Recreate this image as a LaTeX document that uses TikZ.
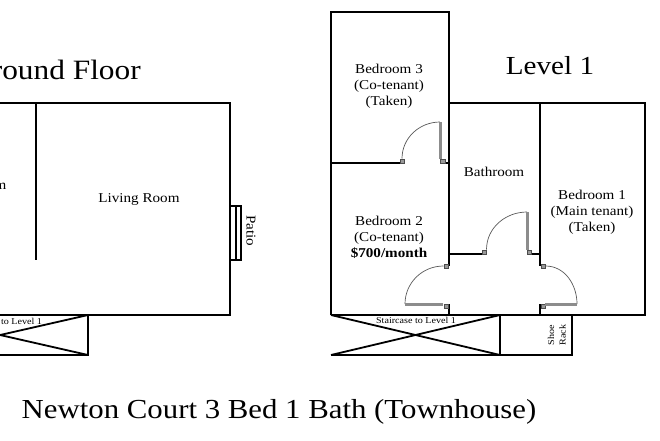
\documentclass[tikz,border=0pt]{standalone}
\usepackage{fontspec}
\setmainfont[FakeStretch=1.12]{Liberation Serif}
\tikzset{
	wall/.style={line width=1.8pt, black},
	swing/.style={line width=0.7pt, black!65},
	leaf/.style={line width=2.6pt, black!45},
	jamb/.style={draw=black!70, fill=black!40, line width=0.5pt, minimum size=4.5pt, inner sep=0pt},
	room/.style={font=\fontsize{13.5}{16}\selectfont, align=center, inner sep=0pt},
	small/.style={font=\fontsize{9}{10.5}\selectfont, align=center, inner sep=0pt},
	title/.style={font=\fontsize{26}{30}\selectfont, inner sep=0pt}
}
\begin{document}
\begin{tikzpicture}[x=1pt, y=-1pt]

	\useasboundingbox (0,0) rectangle (660,440);

	% ground floor
	\node[title, font=\fontsize{28}{30}\selectfont] at (55,70) (ground) {Ground Floor};
	\node[room] at (-35,186) (dining) {Dining Room};
	\node[room] at (139,199) (living) {Living Room};
	\node[room, rotate=-90] at (251,231) (patio) {Patio};
	\node[small] at (2,321) (stair0) {Staircase to Level 1};

	\draw[wall] (-5,103) -- (230,103) -- (230,315) -- (-5,315);
	\draw[wall] (36,103) -- (36,260);
	\draw[wall, line width=1.4pt] (230,206) -- (241,206) -- (241,260) -- (230,260);
	\draw[line width=1.4pt] (236,206) -- (236,260);
	\draw[wall] (-5,355) -- (88,355) -- (88,315);
	\draw[wall] (88,315) -- (-10,337.3);
	\draw[wall] (88,355) -- (-10,332.7);

	% level 1
	\node[title] at (550,66) (level) {Level 1};
	\node[room] at (389,86) (bed3) {Bedroom 3\\(Co-tenant)\\(Taken)};
	\node[room] at (389,237) (bed2) {Bedroom 2\\(Co-tenant)\\\textbf{\$700/month}};
	\node[room] at (494,172) (bath) {Bathroom};
	\node[room] at (592,212) (bed1) {Bedroom 1\\(Main tenant)\\(Taken)};
	\node[small] at (416,320.5) (stair1) {Staircase to Level 1};
	\node[small, rotate=90] at (551,335) (shoe) {Shoe};
	\node[small, rotate=90] at (562.5,335) (rack) {Rack};

	\draw[wall] (331,315) -- (331,12) -- (449,12) -- (449,266);
	\draw[wall] (331,163) -- (400,163);
	\draw[wall] (444,163) -- (449,163);
	\draw[wall] (449,103) -- (645,103) -- (645,315) -- (331,315);
	\draw[wall] (540,103) -- (540,266);
	\draw[wall] (449,254) -- (483,254);
	\draw[wall] (530,254) -- (540,254);
	\draw[wall] (449,304) -- (449,315);
	\draw[wall] (540,304) -- (540,315);

	\draw[wall] (331,355) -- (572,355) -- (572,315);
	\draw[wall] (500,315) -- (500,355);
	\draw[wall] (331,315) -- (500,355);
	\draw[wall] (331,355) -- (500,315);

	% doors
	\node[jamb] at (402,161) (j1) {};
	\node[jamb] at (442.5,161) (j2) {};
	\node[jamb] at (484,252) (j3) {};
	\node[jamb] at (529,252) (j4) {};
	\node[jamb] at (446,266) (j5) {};
	\node[jamb] at (446,306) (j6) {};
	\node[jamb] at (543,266) (j7) {};
	\node[jamb] at (543,306) (j8) {};

	\draw[swing] (j1.north) to[out=90, in=180] (440,122);
	\draw[leaf] (440.5,122) -- (440.5,159);
	\draw[swing] (j3.north east) to[out=90, in=180] (527,212);
	\draw[leaf] (527.5,212) -- (527.5,250);
	\draw[swing] (j5.west) to[out=180, in=90] (405,304);
	\draw[leaf] (405,304.5) -- (443,304.5);
	\draw[swing] (j7.east) to[out=0, in=90] (577,304);
	\draw[leaf] (577,304.5) -- (545,304.5);

	\node[title, font=\fontsize{27.5}{30}\selectfont] at (279,412) (caption) {Newton Court 3 Bed 1 Bath (Townhouse)};

\end{tikzpicture}
\end{document}
